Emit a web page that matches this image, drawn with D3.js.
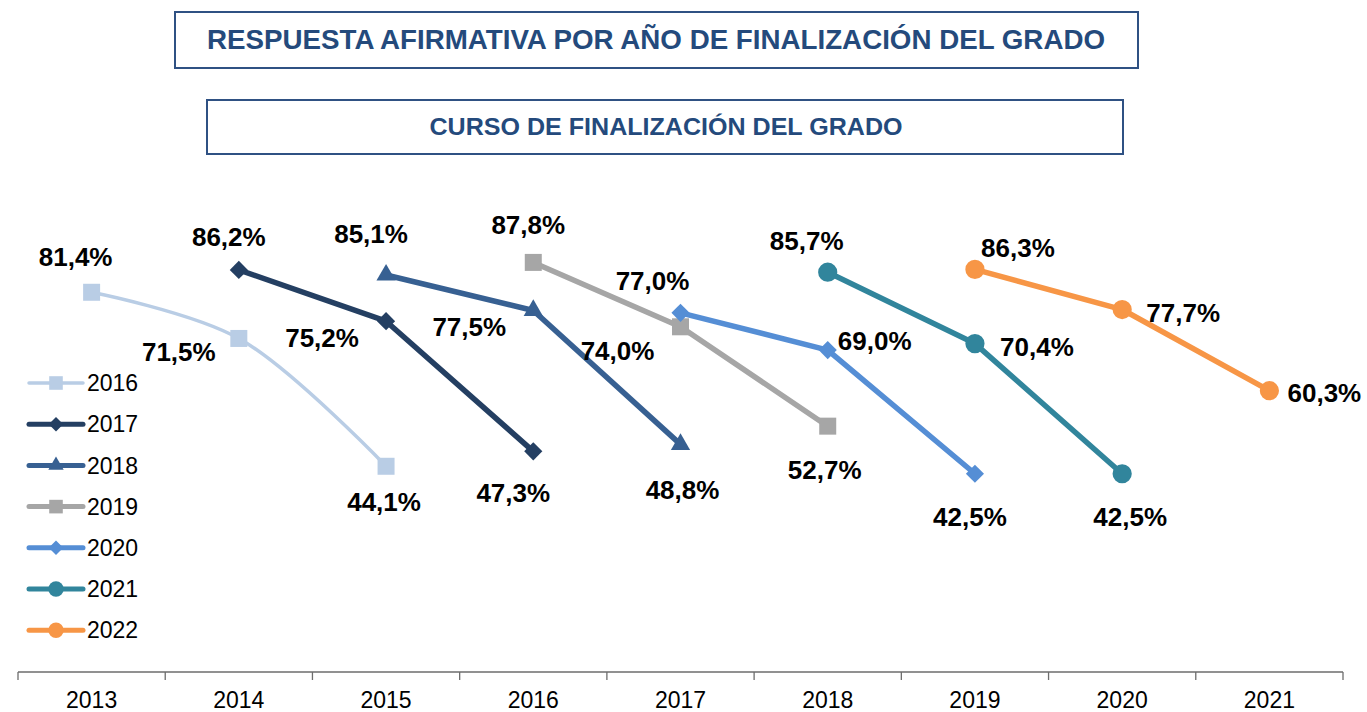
<!DOCTYPE html>
<html>
<head>
<meta charset="utf-8">
<script src="https://cdn.jsdelivr.net/npm/d3@7"></script>
<style>
    body { margin: 0; background: #fff; }
    svg { display: block; }
</style>
</head>
<body>
<script>
const categories = ["2013", "2014", "2015", "2016", "2017", "2018", "2019", "2020", "2021"];
const seriesNames = ["2016", "2017", "2018", "2019", "2020", "2021", "2022"];
const seriesStart = ["2013", "2014", "2015", "2016", "2017", "2018", "2019"];
const values2016 = [81.4, 71.5, 44.1];
const values2017 = [86.2, 75.2, 47.3];
const values2018 = [85.1, 77.5, 48.8];
const values2019 = [87.8, 74.0, 52.7];
const values2020 = [77.0, 69.0, 42.5];
const values2021 = [85.7, 70.4, 42.5];
const values2022 = [86.3, 77.7, 60.3];
const allValues = [values2016, values2017, values2018, values2019, values2020, values2021, values2022];

const colors = ["#b9cde5", "#243f62", "#376092", "#a6a6a6", "#558ed5", "#31859c", "#f79646"];
const markers = ["square", "diamond", "triangle", "square", "diamond", "circle", "circle"];

// label offset from its point (dx, dy), one per point
const labelPlacement = [
    [[-16, -36], [-60, 13], [-2, 35]],
    [[-10, -33], [-64, 16], [-20, 41]],
    [[-15, -41], [-64, 16], [2, 45]],
    [[-5, -38], [-63, 24], [-3, 43]],
    [[-28, -32], [47, -9], [-5, 43]],
    [[-21, -32], [62, 3], [8, 43]],
    [[43, -22], [61, 3], [55, 2]]
];

const width = 1367;
const height = 712;
const margin = { left: 18, right: 24, top: 205, bottom: 40 };

function markerPath(type, big) {
    const k = big ? 1 : 0.8;
    if (type === "square") return d3.symbol(d3.symbolSquare, 289 * k * k)();
    if (type === "diamond") return d3.symbol(d3.symbolSquare, 165 * k * k)();
    if (type === "triangle") return d3.symbol(d3.symbolTriangle, 160 * k * k)();
    return d3.symbol(d3.symbolCircle, 290 * k * k)();
}

function buildChart() {
    const svg = d3.select("body").append("svg")
        .attr("width", width)
        .attr("height", height);

    // title boxes
    const titleColor = "#244a7c";
    svg.append("rect")
        .attr("x", 175).attr("y", 12)
        .attr("width", 963).attr("height", 56)
        .attr("fill", "none")
        .attr("stroke", "#2f5183")
        .attr("stroke-width", 2);
    svg.append("text")
        .attr("x", 656).attr("y", 49)
        .attr("text-anchor", "middle")
        .attr("textLength", 898)
        .attr("lengthAdjust", "spacingAndGlyphs")
        .style("font-family", "'Liberation Sans Narrow', 'Liberation Sans', Arial, sans-serif")
        .style("font-weight", "bold")
        .style("font-size", "28px")
        .style("fill", titleColor)
        .text("RESPUESTA AFIRMATIVA POR AÑO DE FINALIZACIÓN DEL GRADO");

    svg.append("rect")
        .attr("x", 207).attr("y", 100)
        .attr("width", 916).attr("height", 54)
        .attr("fill", "none")
        .attr("stroke", "#2f5183")
        .attr("stroke-width", 2);
    svg.append("text")
        .attr("x", 666).attr("y", 135)
        .attr("text-anchor", "middle")
        .attr("textLength", 473)
        .attr("lengthAdjust", "spacingAndGlyphs")
        .style("font-family", "'Liberation Sans Narrow', 'Liberation Sans', Arial, sans-serif")
        .style("font-weight", "bold")
        .style("font-size", "24px")
        .style("fill", titleColor)
        .text("CURSO DE FINALIZACIÓN DEL GRADO");

    const xScale = d3.scaleBand()
        .domain(categories)
        .range([margin.left, width - margin.right]);

    const yScale = d3.scaleLinear()
        .domain([0, 100])
        .range([672, 205.5]);

    // x axis: line plus ticks on category boundaries
    const axis = svg.append("g").attr("id", "x-axis");
    const x0 = xScale.range()[0];
    const x1 = xScale.range()[1];
    axis.append("line")
        .attr("x1", x0).attr("x2", x1)
        .attr("y1", yScale(0)).attr("y2", yScale(0))
        .attr("stroke", "#6d6d6d")
        .attr("stroke-width", 1.3);
    const bounds = categories.map(c => xScale(c)).concat([x1]);
    axis.selectAll(".tick-mark")
        .data(bounds)
        .enter().append("line")
        .attr("class", "tick-mark")
        .attr("x1", d => d).attr("x2", d => d)
        .attr("y1", yScale(0)).attr("y2", yScale(0) + 8)
        .attr("stroke", "#6d6d6d")
        .attr("stroke-width", 1.3);
    axis.selectAll(".tick-label")
        .data(categories)
        .enter().append("text")
        .attr("class", "tick-label")
        .attr("x", d => xScale(d) + xScale.bandwidth() / 2)
        .attr("y", 708)
        .attr("text-anchor", "middle")
        .style("font-family", "'Liberation Sans', Arial, sans-serif")
        .style("font-size", "23px")
        .style("fill", "#000")
        .text(d => d);

    const fmt = d3.format(".1f");
    const cx = cat => xScale(cat) + xScale.bandwidth() / 2;

    seriesNames.forEach((name, s) => {
        const startIdx = categories.indexOf(seriesStart[s]);
        const points = allValues[s].map((v, i) => ({
            cat: categories[startIdx + i],
            value: v,
            off: labelPlacement[s][i]
        }));

        const line = d3.line()
            .x(d => cx(d.cat))
            .y(d => yScale(d.value))
            .curve(s === 0 ? d3.curveCatmullRom.alpha(0.5) : d3.curveLinear);

        const g = svg.append("g").attr("class", "series s" + name);
        g.append("path")
            .datum(points)
            .attr("d", line)
            .attr("fill", "none")
            .attr("stroke", colors[s])
            .attr("stroke-width", s === 0 ? 3.5 : 5.5)
            .attr("stroke-linejoin", "round");

        g.selectAll(".marker")
            .data(points)
            .enter().append("path")
            .attr("class", "marker")
            .attr("d", markerPath(markers[s], true))
            .attr("transform", d => "translate(" + cx(d.cat) + "," + yScale(d.value) + ")"
                + (markers[s] === "diamond" ? " rotate(45)" : ""))
            .attr("fill", colors[s]);

        g.selectAll(".value-label")
            .data(points)
            .enter().append("text")
            .attr("class", "value-label")
            .attr("x", d => cx(d.cat) + d.off[0])
            .attr("y", d => yScale(d.value) + d.off[1])
            .attr("dy", "0.36em")
            .attr("text-anchor", "middle")
            .style("font-family", "'Liberation Sans', Arial, sans-serif")
            .style("font-weight", "bold")
            .style("font-size", "26px")
            .style("fill", "#000")
            .text(d => fmt(d.value).replace(".", ",") + "%");
    });

    // legend
    const legend = svg.append("g").attr("id", "legend");
    const item = legend.selectAll(".legend-item")
        .data(seriesNames)
        .enter().append("g")
        .attr("class", "legend-item")
        .attr("transform", (d, i) => "translate(0," + (383 + i * 41.2) + ")");

    item.append("line")
        .attr("x1", 29).attr("x2", 83)
        .attr("y1", 0).attr("y2", 0)
        .attr("stroke", (d, i) => colors[i])
        .attr("stroke-width", (d, i) => i === 0 ? 3.5 : 5)
        .attr("stroke-linecap", "round");

    item.append("path")
        .attr("d", (d, i) => markerPath(markers[i], false))
        .attr("transform", (d, i) => "translate(56,0)" + (markers[i] === "diamond" ? " rotate(45)" : ""))
        .attr("fill", (d, i) => colors[i]);

    item.append("text")
        .attr("x", 87)
        .attr("y", 0)
        .attr("dy", "0.36em")
        .style("font-family", "'Liberation Sans', Arial, sans-serif")
        .style("font-size", "23px")
        .style("fill", "#000")
        .text(d => d);
}

document.addEventListener("DOMContentLoaded", () => buildChart());
</script>
</body>
</html>
